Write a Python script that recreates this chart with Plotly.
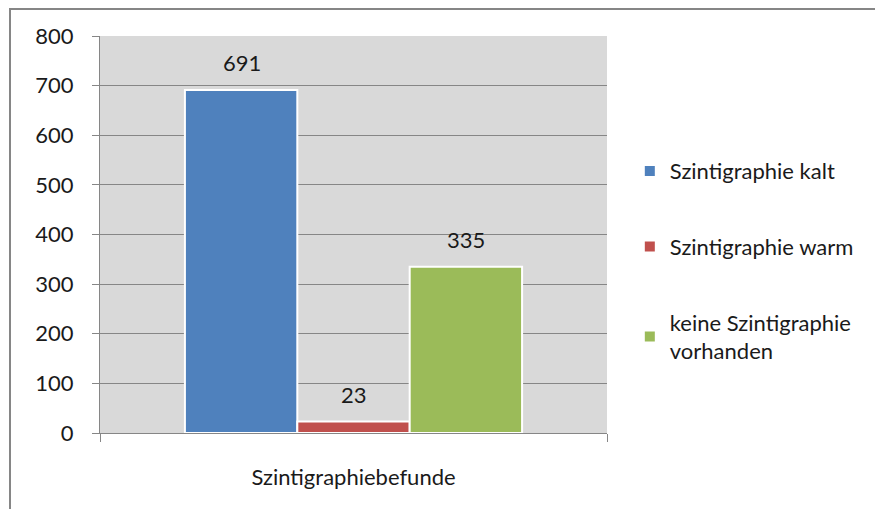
import plotly.graph_objects as go

# ── Daten ────────────────────────────────────────────────────────────────────
category = ["Szintigraphiebefunde"]
series_names = ["Szintigraphie kalt", "Szintigraphie warm", "keine Szintigraphie<br>vorhanden"]
series_values = [691, 23, 335]
colors = ["#4F81BD", "#C0504D", "#9BBB59"]

AXIS = "#868686"
FONT = "Lato, 'Open Sans', sans-serif"
SIZE = 22

fig = go.Figure()
for i, (name, val) in enumerate(zip(series_names, series_values)):
    fig.add_trace(go.Bar(
        x=category, y=[val], name=name,
        legendgroup=f"g{i}",
        marker=dict(color=colors[i], line=dict(color="white", width=2)),
        textposition="none",
    ))

# Datenbeschriftung über den Balken
n = len(series_values)
for i, val in enumerate(series_values):
    fig.add_annotation(
        x=category[0], y=val, text=str(val), showarrow=False,
        xref="x", yref="y", yanchor="bottom", yshift=12,
        xshift=(i - (n - 1) / 2) * 112,
        font=dict(size=SIZE, color="#1a1a1a", family=FONT),
    )

fig.update_layout(
    width=875, height=501,
    margin=dict(l=92, r=276, t=28, b=76),
    paper_bgcolor="white",
    plot_bgcolor="#D9D9D9",
    font=dict(family=FONT, size=SIZE, color="#1a1a1a"),
    barmode="group", bargap=0.335, bargroupgap=0,
    legend=dict(
        x=1.045, y=0.433, xanchor="left", yanchor="middle",
        tracegroupgap=44, font=dict(size=SIZE),
        itemwidth=30,
    ),
    xaxis=dict(
        showline=True, linecolor=AXIS, linewidth=1,
        ticks="outside", ticklen=8, tickcolor=AXIS, tickson="boundaries",
        ticklabelstandoff=25,
    ),
    yaxis=dict(
        range=[0, 800], dtick=100,
        showline=True, linecolor=AXIS, linewidth=1,
        gridcolor=AXIS, gridwidth=1,
        ticks="outside", ticklen=7, tickcolor=AXIS,
        ticklabelstandoff=14,
        zeroline=False,
    ),
    shapes=[dict(
        type="rect", xref="paper", yref="paper",
        x0=-0.1775, x1=1.7, y0=-0.4, y1=1.068,
        line=dict(color=AXIS, width=2), layer="below",
    )],
)

fig.write_html("out.html")
